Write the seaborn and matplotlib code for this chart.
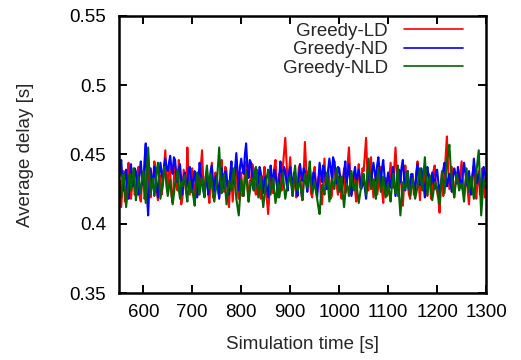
import numpy as np
import pandas as pd
import matplotlib
matplotlib.use("Agg")
import matplotlib.pyplot as plt
from matplotlib.ticker import FormatStrFormatter
import seaborn as sns

# ---- data (2.5 s spacing) ----
time_s = np.arange(550, 1300.1, 2.5)

greedy_ld = [
    0.425,0.431,0.412,0.427,0.438,0.416,0.420,0.435,0.444,0.423,0.418,0.429,0.433,0.421,0.425,0.437,0.441,0.420,0.416,0.432,
    0.436,0.418,0.422,0.439,0.447,0.425,0.419,0.433,0.430,0.445,0.440,0.424,0.417,0.429,0.435,0.421,0.428,0.440,0.453,0.431,
    0.426,0.444,0.438,0.420,0.415,0.433,0.442,0.427,0.424,0.446,0.436,0.414,0.419,0.439,0.431,0.423,0.455,0.434,0.421,0.438,
    0.440,0.424,0.418,0.436,0.433,0.421,0.426,0.441,0.453,0.430,0.420,0.434,0.437,0.423,0.415,0.429,0.444,0.419,0.428,0.437,
    0.432,0.425,0.419,0.437,0.446,0.428,0.423,0.441,0.438,0.420,0.412,0.430,0.435,0.416,0.427,0.439,0.442,0.424,0.418,0.433,
    0.437,0.420,0.424,0.438,0.445,0.427,0.416,0.431,0.432,0.443,0.440,0.425,0.421,0.439,0.436,0.422,0.418,0.434,0.430,0.441,
    0.425,0.417,0.407,0.421,0.438,0.430,0.422,0.440,0.446,0.431,0.419,0.436,0.434,0.424,0.441,0.452,0.462,0.445,0.428,0.436,
    0.448,0.431,0.420,0.428,0.437,0.419,0.426,0.440,0.443,0.422,0.417,0.435,0.459,0.441,0.424,0.438,0.433,0.422,0.419,0.436,
    0.441,0.428,0.423,0.433,0.436,0.420,0.414,0.430,0.447,0.425,0.426,0.439,0.431,0.418,0.420,0.436,0.445,0.432,0.427,0.421,
    0.434,0.425,0.418,0.431,0.440,0.422,0.425,0.444,0.455,0.436,0.421,0.430,0.437,0.424,0.416,0.433,0.443,0.426,0.429,0.440,
    0.438,0.450,0.462,0.437,0.424,0.439,0.448,0.430,0.419,0.428,0.435,0.421,0.427,0.436,0.441,0.424,0.415,0.429,0.433,0.420,
    0.422,0.433,0.444,0.431,0.426,0.440,0.455,0.438,0.420,0.429,0.437,0.425,0.413,0.427,0.442,0.432,0.428,0.421,0.418,0.435,
    0.436,0.421,0.424,0.437,0.445,0.429,0.417,0.433,0.431,0.424,0.439,0.428,0.420,0.436,0.434,0.418,0.426,0.438,0.442,0.427,
    0.423,0.418,0.408,0.426,0.437,0.420,0.428,0.449,0.463,0.440,0.425,0.433,0.441,0.427,0.419,0.430,0.434,0.438,0.427,0.436,
    0.445,0.430,0.421,0.428,0.436,0.424,0.414,0.426,0.430,0.437,0.442,0.427,0.418,0.431,0.438,0.421,0.425,0.440,0.433,0.419,
    0.426,
]

greedy_nd = [
    0.432,0.438,0.446,0.431,0.424,0.435,0.439,0.425,0.418,0.434,0.443,0.427,0.429,0.440,0.437,0.426,0.421,0.438,0.445,0.433,
    0.428,0.445,0.458,0.420,0.406,0.429,0.440,0.433,0.426,0.441,0.436,0.427,0.419,0.435,0.444,0.437,0.431,0.442,0.447,0.440,
    0.438,0.444,0.449,0.440,0.436,0.448,0.446,0.435,0.430,0.439,0.443,0.432,0.421,0.434,0.437,0.426,0.428,0.440,0.441,0.432,
    0.425,0.433,0.438,0.427,0.419,0.431,0.444,0.436,0.430,0.424,0.420,0.429,0.436,0.421,0.427,0.438,0.442,0.430,0.423,0.434,
    0.435,0.427,0.418,0.430,0.440,0.432,0.426,0.438,0.433,0.425,0.421,0.436,0.445,0.432,0.429,0.440,0.451,0.437,0.424,0.441,
    0.447,0.440,0.436,0.450,0.458,0.442,0.433,0.446,0.444,0.433,0.425,0.437,0.440,0.427,0.430,0.441,0.437,0.429,0.422,0.431,
    0.434,0.426,0.419,0.431,0.442,0.435,0.427,0.439,0.436,0.428,0.421,0.433,0.445,0.437,0.430,0.441,0.438,0.429,0.424,0.436,
    0.441,0.432,0.426,0.437,0.435,0.427,0.420,0.433,0.443,0.436,0.431,0.440,0.438,0.429,0.423,0.434,0.440,0.431,0.428,0.437,
    0.436,0.428,0.419,0.432,0.444,0.437,0.430,0.442,0.438,0.431,0.425,0.439,0.447,0.440,0.433,0.448,0.445,0.437,0.429,0.441,
    0.440,0.433,0.424,0.430,0.437,0.445,0.428,0.436,0.443,0.431,0.420,0.429,0.436,0.441,0.431,0.435,0.439,0.432,0.425,0.428,
    0.432,0.425,0.418,0.429,0.440,0.434,0.427,0.438,0.444,0.437,0.431,0.442,0.448,0.438,0.429,0.440,0.446,0.434,0.423,0.430,
    0.437,0.431,0.426,0.435,0.441,0.429,0.420,0.428,0.435,0.439,0.430,0.441,0.446,0.433,0.424,0.432,0.438,0.425,0.427,0.436,
    0.434,0.428,0.422,0.436,0.443,0.433,0.428,0.440,0.436,0.427,0.419,0.432,0.441,0.435,0.430,0.428,0.437,0.431,0.425,0.438,
    0.439,0.430,0.421,0.428,0.433,0.439,0.444,0.435,0.427,0.432,0.436,0.429,0.423,0.434,0.440,0.436,0.429,0.441,0.435,0.430,
    0.426,0.436,0.444,0.437,0.431,0.427,0.438,0.430,0.421,0.434,0.447,0.438,0.429,0.433,0.436,0.427,0.418,0.430,0.441,0.437,
    0.430,
]

greedy_nld = [
    0.428,0.422,0.419,0.430,0.436,0.424,0.412,0.421,0.431,0.436,0.424,0.432,0.440,0.428,0.417,0.425,0.434,0.427,0.422,0.433,
    0.438,0.426,0.415,0.440,0.455,0.437,0.421,0.428,0.433,0.420,0.426,0.438,0.444,0.431,0.418,0.424,0.430,0.441,0.436,0.427,
    0.420,0.426,0.432,0.423,0.414,0.421,0.429,0.434,0.439,0.425,0.418,0.430,0.427,0.433,0.435,0.422,0.416,0.428,0.431,0.423,
    0.424,0.419,0.413,0.427,0.437,0.430,0.421,0.428,0.433,0.425,0.419,0.434,0.442,0.431,0.425,0.436,0.430,0.421,0.416,0.423,
    0.428,0.442,0.455,0.436,0.422,0.430,0.436,0.425,0.414,0.423,0.431,0.427,0.424,0.433,0.440,0.429,0.418,0.412,0.406,0.419,
    0.432,0.425,0.420,0.430,0.438,0.427,0.416,0.423,0.429,0.433,0.424,0.436,0.441,0.430,0.419,0.427,0.434,0.421,0.412,0.420,
    0.427,0.434,0.439,0.430,0.421,0.427,0.433,0.424,0.415,0.422,0.430,0.419,0.424,0.431,0.437,0.426,0.418,0.424,0.428,0.432,
    0.435,0.427,0.420,0.433,0.442,0.430,0.424,0.428,0.431,0.423,0.417,0.428,0.436,0.431,0.426,0.437,0.445,0.430,0.422,0.426,
    0.430,0.423,0.418,0.412,0.407,0.419,0.428,0.425,0.421,0.430,0.437,0.427,0.416,0.424,0.432,0.429,0.425,0.434,0.440,0.431,
    0.423,0.430,0.434,0.421,0.412,0.422,0.429,0.426,0.420,0.431,0.438,0.429,0.424,0.428,0.431,0.422,0.415,0.421,0.427,0.433,
    0.436,0.428,0.421,0.437,0.447,0.434,0.425,0.429,0.432,0.424,0.418,0.431,0.440,0.430,0.423,0.428,0.434,0.426,0.419,0.425,
    0.429,0.422,0.416,0.427,0.436,0.428,0.422,0.433,0.442,0.420,0.406,0.418,0.430,0.427,0.425,0.432,0.438,0.429,0.420,0.426,
    0.433,0.425,0.418,0.422,0.427,0.434,0.440,0.431,0.424,0.437,0.448,0.433,0.421,0.428,0.435,0.424,0.417,0.423,0.430,0.429,
    0.426,0.420,0.414,0.427,0.438,0.430,0.422,0.433,0.445,0.450,0.457,0.442,0.431,0.425,0.419,0.428,0.436,0.430,0.424,0.427,
    0.429,0.423,0.416,0.428,0.440,0.431,0.423,0.429,0.434,0.426,0.418,0.427,0.437,0.445,0.453,0.430,0.406,0.419,0.432,0.428,
    0.425,
]

series_names = ["Greedy-LD", "Greedy-ND", "Greedy-NLD"]
series_colors = ["#ff0000", "#0000ff", "#006400"]
x_ticks = [600, 700, 800, 900, 1000, 1100, 1200, 1300]
y_ticks = [0.35, 0.4, 0.45, 0.5, 0.55]

df = pd.concat([
    pd.DataFrame({"time": time_s, "delay": vals, "algo": name})
    for name, vals in zip(series_names, [greedy_ld, greedy_nd, greedy_nld])
], ignore_index=True)

sns.set_style("ticks")
plt.rcParams["font.family"] = ["Liberation Sans", "DejaVu Sans"]
FS = 13.5

fig = plt.figure(figsize=(5.21, 3.60), dpi=100)
ax = fig.add_axes([0.228, 0.186, 0.705, 0.770])

sns.lineplot(data=df, x="time", y="delay", hue="algo", hue_order=series_names,
             palette=series_colors, linewidth=1.5, ax=ax, legend=True)

ax.set_xlim(550, 1300)
ax.set_ylim(0.35, 0.55)
ax.set_xticks(x_ticks)
ax.set_yticks(y_ticks)
ax.yaxis.set_major_formatter(FormatStrFormatter("%g"))
ax.tick_params(direction="in", length=6, width=1.4, top=True, right=True,
               labelsize=FS, colors="black")
ax.tick_params(axis="x", pad=8)
ax.tick_params(axis="y", pad=9)
for sp in ax.spines.values():
    sp.set_visible(True)
    sp.set_linewidth(1.8)
    sp.set_color("black")

ax.set_xlabel("Simulation time [s]", fontsize=FS)
ax.set_ylabel("Average delay [s]", fontsize=FS)
ax.xaxis.set_label_coords(0.5, -0.155)
ax.yaxis.set_label_coords(-0.232, 0.5)

leg = ax.legend(loc="upper right", bbox_to_anchor=(0.937, 0.975), frameon=False,
                markerfirst=False, fontsize=FS, handlelength=3.15,
                labelspacing=0.07, borderaxespad=0, borderpad=0,
                handletextpad=0.85)
for t in leg.get_texts():
    t.set_ha("right")
for h in leg.get_lines():
    h.set_linewidth(1.2)

fig.savefig("out.png", dpi=100)
